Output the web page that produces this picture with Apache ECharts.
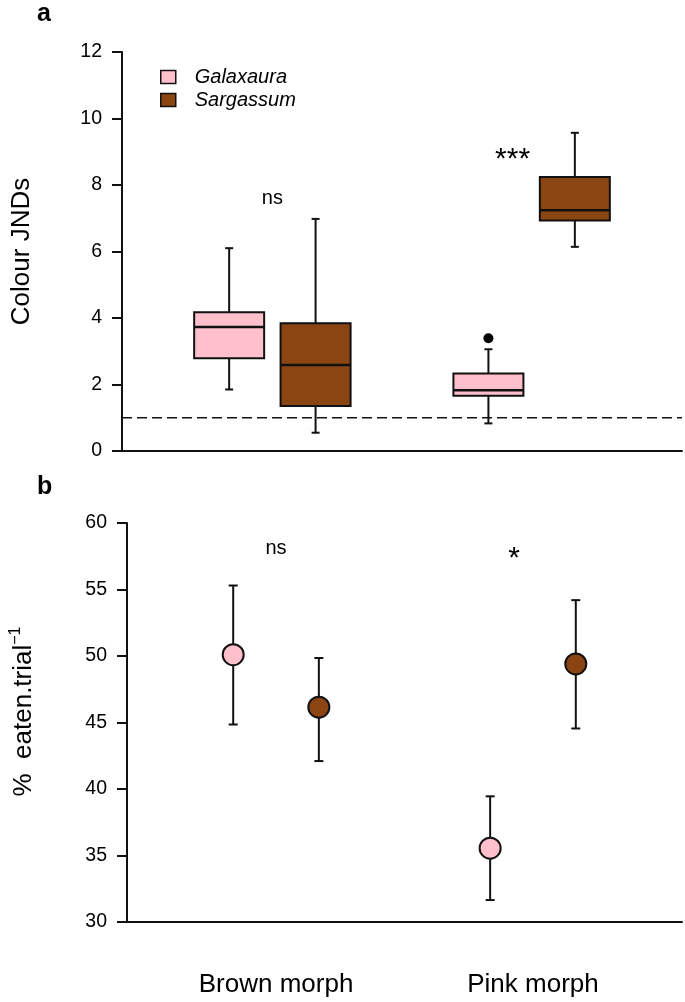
<!DOCTYPE html>
<html>
<head>
<meta charset="utf-8">
<script src="https://cdn.jsdelivr.net/npm/echarts@6/dist/echarts.min.js"></script>
<style>
  html, body { margin: 0; padding: 0; background: #fff; }
  #chart { width: 685px; height: 1002px; }
</style>
</head>
<body>
<div id="chart"></div>
<script type="text/javascript">
// panel a - colour JNDs, box stats: [position, min, Q1, median, Q3, max]
var boxGalaxaura = [[1, 1.85, 2.79, 3.73, 4.17, 6.1], [4, 0.83, 1.66, 1.83, 2.33, 3.06]];
var boxSargassum = [[2, 0.55, 1.35, 2.59, 3.84, 6.98], [5, 6.14, 6.93, 7.24, 8.24, 9.57]];
var outliersGalaxaura = [[4, 3.39]];
var jndThreshold = 1;

// panel b - % eaten per trial: [position, mean, lower, upper]
var eatenGalaxaura = [[1, 50.1, 44.85, 55.3], [4, 35.55, 31.65, 39.45]];
var eatenSargassum = [[2, 46.15, 42.1, 49.85], [5, 49.4, 44.55, 54.2]];

var groupPos = [1.5, 4.5];
var groupLabels = ['Brown morph', 'Pink morph'];
var xRange = [-0.24, 6.24];

// significance marks: [x, y, text]
var signifA = [[1.5, 7.6, 'ns'], [4.28, 8.75, '***']];
var signifB = [[1.5, 58.1, 'ns'], [4.28, 57.3, '*']];

var pink = '#FFC0CB';
var brown = '#8B4513';
var ink = '#111';
var font = '"Liberation Sans", Arial, sans-serif';

var myChart = echarts.init(document.getElementById('chart'));

var renderBox = function (params, api) {
    var x = api.value(0);
    var lo = api.coord([x, api.value(1)]);
    var q1 = api.coord([x, api.value(2)]);
    var med = api.coord([x, api.value(3)]);
    var q3 = api.coord([x, api.value(4)]);
    var hi = api.coord([x, api.value(5)]);
    var hw = api.size([0.81, 0])[0] / 2;
    var cap = 4;
    var ln = { stroke: ink, lineWidth: 2 };
    return {
        type: 'group',
        children: [
            { type: 'line', shape: { x1: hi[0], y1: hi[1], x2: q3[0], y2: q3[1] }, style: ln },
            { type: 'line', shape: { x1: q1[0], y1: q1[1], x2: lo[0], y2: lo[1] }, style: ln },
            { type: 'line', shape: { x1: hi[0] - cap, y1: hi[1], x2: hi[0] + cap, y2: hi[1] }, style: ln },
            { type: 'line', shape: { x1: lo[0] - cap, y1: lo[1], x2: lo[0] + cap, y2: lo[1] }, style: ln },
            { type: 'rect', shape: { x: q3[0] - hw, y: q3[1], width: hw * 2, height: q1[1] - q3[1] },
              style: { fill: api.visual('color'), stroke: ink, lineWidth: 2 } },
            { type: 'line', shape: { x1: med[0] - hw, y1: med[1], x2: med[0] + hw, y2: med[1] },
              style: { stroke: ink, lineWidth: 2.5 } }
        ]
    };
};

var renderErr = function (params, api) {
    var x = api.value(0);
    var lo = api.coord([x, api.value(2)]);
    var hi = api.coord([x, api.value(3)]);
    var cap = 4.5;
    var ln = { stroke: ink, lineWidth: 2 };
    return {
        type: 'group',
        children: [
            { type: 'line', shape: { x1: lo[0], y1: lo[1], x2: hi[0], y2: hi[1] }, style: ln },
            { type: 'line', shape: { x1: hi[0] - cap, y1: hi[1], x2: hi[0] + cap, y2: hi[1] }, style: ln },
            { type: 'line', shape: { x1: lo[0] - cap, y1: lo[1], x2: lo[0] + cap, y2: lo[1] }, style: ln }
        ]
    };
};

var textSeries = function (list, idx) {
    return {
        type: 'scatter',
        xAxisIndex: idx,
        yAxisIndex: idx,
        symbolSize: 1,
        itemStyle: { color: '#fff', opacity: 1 },
        silent: true,
        z: 1,
        data: list.map(function (d) {
            return {
                value: [d[0], d[1]],
                label: {
                    show: true,
                    position: 'inside',
                    formatter: d[2],
                    fontSize: d[2] == 'ns' ? 20 : 30,
                    color: '#000',
                    textBorderWidth: 0,
                    fontFamily: font
                }
            };
        })
    };
};

var xAxisBase = function (idx) {
    return {
        type: 'value',
        gridIndex: idx,
        min: xRange[0],
        max: xRange[1],
        axisLine: { onZero: false, lineStyle: { color: ink, width: 2 } },
        axisTick: { show: false },
        axisLabel: { show: false },
        splitLine: { show: false }
    };
};

var xB = xAxisBase(1);
xB.axisLabel = {
    show: true,
    customValues: groupPos,
    formatter: function (v) {
        var i = groupPos.indexOf(v);
        return i >= 0 ? groupLabels[i] : '';
    },
    fontSize: 26,
    color: '#000',
    fontFamily: font,
    margin: 50
};

var yAxisBase = function (idx, min, max, interval, name, gap) {
    return {
        type: 'value',
        gridIndex: idx,
        min: min,
        max: max,
        interval: interval,
        name: name,
        nameLocation: 'middle',
        nameRotate: 90,
        nameGap: gap,
        nameTextStyle: { fontSize: 26, color: '#000', fontFamily: font },
        axisLine: { show: true, onZero: false, lineStyle: { color: ink, width: 2 } },
        axisTick: { show: true, length: 10, lineStyle: { color: ink, width: 2 } },
        axisLabel: { fontSize: 19.5, color: '#000', fontFamily: font, margin: 20 },
        splitLine: { show: false }
    };
};

var yB = yAxisBase(1, 30, 60, 5, '{a|%  eaten.trial}{s|\u22121}', 87);
yB.nameTextStyle.padding = [0, 0, 0, 22];
yB.nameTextStyle.rich = {
    a: { fontSize: 26, color: '#000', fontFamily: font },
    s: { fontSize: 16, color: '#000', fontFamily: font, padding: [0, 0, 16, 0] }
};

var option = {
    animation: false,
    backgroundColor: '#fff',
    textStyle: { fontFamily: font },
    title: [
        { text: 'a', left: 37, top: 2, padding: 0, textStyle: { fontSize: 25, fontWeight: 'bold', color: '#000', fontFamily: font } },
        { text: 'b', left: 37, top: 475, padding: 0, textStyle: { fontSize: 25, fontWeight: 'bold', color: '#000', fontFamily: font } }
    ],
    legend: {
        orient: 'vertical',
        left: 160,
        top: 67,
        padding: 0,
        itemWidth: 15,
        itemHeight: 13,
        itemGap: 3,
        textStyle: { fontSize: 20, fontStyle: 'italic', color: '#000', fontFamily: font, padding: [0, 0, 0, 14] },
        data: [
            { name: 'Galaxaura', icon: 'rect', itemStyle: { color: pink, borderColor: ink, borderWidth: 1.5 } },
            { name: 'Sargassum', icon: 'rect', itemStyle: { color: brown, borderColor: ink, borderWidth: 1.5 } }
        ]
    },
    grid: [
        { left: 122, top: 52, width: 560, height: 399 },
        { left: 122, top: 523, width: 560, height: 399 }
    ],
    xAxis: [xAxisBase(0), xB],
    yAxis: [
        yAxisBase(0, 0, 12, 2, 'Colour JNDs', 87),
        yB
    ],
    series: [
        {
            name: 'threshold',
            type: 'line',
            xAxisIndex: 0,
            yAxisIndex: 0,
            symbol: 'none',
            silent: true,
            lineStyle: { color: ink, width: 1.7, type: [10, 5] },
            data: [[xRange[0], jndThreshold], [xRange[1], jndThreshold]]
        },
        {
            name: 'Galaxaura',
            type: 'custom',
            xAxisIndex: 0,
            yAxisIndex: 0,
            itemStyle: { color: pink },
            renderItem: renderBox,
            encode: { x: 0, y: [1, 2, 3, 4, 5] },
            data: boxGalaxaura
        },
        {
            name: 'Sargassum',
            type: 'custom',
            xAxisIndex: 0,
            yAxisIndex: 0,
            itemStyle: { color: brown },
            renderItem: renderBox,
            encode: { x: 0, y: [1, 2, 3, 4, 5] },
            data: boxSargassum
        },
        {
            name: 'Galaxaura',
            type: 'scatter',
            xAxisIndex: 0,
            yAxisIndex: 0,
            symbolSize: 10,
            itemStyle: { color: '#000', opacity: 1 },
            data: outliersGalaxaura
        },
        {
            name: 'Galaxaura',
            type: 'custom',
            xAxisIndex: 1,
            yAxisIndex: 1,
            itemStyle: { color: pink },
            renderItem: renderErr,
            encode: { x: 0, y: [1, 2, 3] },
            data: eatenGalaxaura
        },
        {
            name: 'Sargassum',
            type: 'custom',
            xAxisIndex: 1,
            yAxisIndex: 1,
            itemStyle: { color: brown },
            renderItem: renderErr,
            encode: { x: 0, y: [1, 2, 3] },
            data: eatenSargassum
        },
        {
            name: 'Galaxaura',
            type: 'scatter',
            xAxisIndex: 1,
            yAxisIndex: 1,
            symbolSize: 21,
            z: 5,
            itemStyle: { color: pink, borderColor: ink, borderWidth: 2, opacity: 1 },
            data: eatenGalaxaura.map(function (d) { return [d[0], d[1]]; })
        },
        {
            name: 'Sargassum',
            type: 'scatter',
            xAxisIndex: 1,
            yAxisIndex: 1,
            symbolSize: 21,
            z: 5,
            itemStyle: { color: brown, borderColor: ink, borderWidth: 2, opacity: 1 },
            data: eatenSargassum.map(function (d) { return [d[0], d[1]]; })
        },
        textSeries(signifA, 0),
        textSeries(signifB, 1)
    ]
};

myChart.setOption(option);
</script>
</body>
</html>
